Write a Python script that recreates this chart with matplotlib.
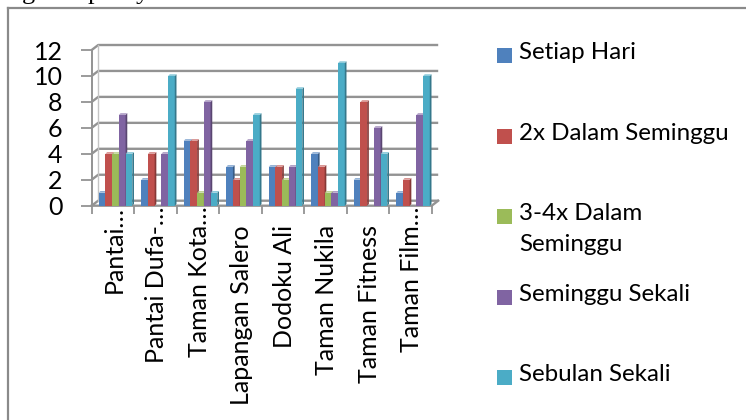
import matplotlib
matplotlib.use("Agg")
import matplotlib.pyplot as plt
import matplotlib.transforms as mtransforms
from matplotlib.patches import Polygon, Rectangle
from matplotlib.lines import Line2D
import numpy as np

# ---- data ----
categories = ["Pantai…", "Pantai Dufa-…", "Taman Kota…", "Lapangan Salero",
              "Dodoku Ali", "Taman Nukila", "Taman Fitness", "Taman Film…"]
series_names = ["Setiap Hari", "2x Dalam Seminggu", "3-4x Dalam\nSeminggu",
                "Seminggu Sekali", "Sebulan Sekali"]
setiap_hari = [1, 2, 5, 3, 3, 4, 2, 1]
dua_kali = [4, 4, 5, 2, 3, 3, 8, 2]
tiga_empat_kali = [4, 0, 1, 3, 2, 1, 0, 0]
seminggu_sekali = [7, 4, 8, 5, 3, 1, 6, 7]
sebulan_sekali = [4, 10, 1, 7, 9, 11, 4, 10]
series_values = [setiap_hari, dua_kali, tiga_empat_kali, seminggu_sekali, sebulan_sekali]
colors = ["#4F81BD", "#C0504D", "#9BBB59", "#8064A2", "#4BACC6"]
y_ticks = [0, 2, 4, 6, 8, 10, 12]

# ---- figure geometry (pixels) ----
W, H = 746, 420
FONT = "Lato"
FS = 18.0
LEG_FS = 17.4
GRID = "#939393"


def fx(px):
    return px / W


def fy(py):
    return 1 - py / H


fig = plt.figure(figsize=(W / 100, H / 100), dpi=100)
fig.patch.set_facecolor("white")

# outer chart frame (left and top edges)
fig.add_artist(Line2D([fx(8.3), fx(8.3)], [fy(8.3), 0], transform=fig.transFigure,
                      color="#8a8a8a", lw=1.6))
fig.add_artist(Line2D([fx(8.3), 1], [fy(8.3), fy(8.3)], transform=fig.transFigure,
                      color="#8a8a8a", lw=1.6))

# descenders of the paragraph line above the chart
for ch, px in [("g", 22), ("p", 88), ("y", 136)]:
    fig.text(fx(px), fy(-0.5), ch, family="Liberation Serif", fontsize=19,
             va="baseline", ha="left", color="black")

x_left, x_right = 91.7, 431.7
y_bot, y_top = 205.7, 50.0
ax = fig.add_axes([fx(x_left), fy(y_bot), (x_right - x_left) / W, (y_bot - y_top) / H])
ax.set_xlim(-0.5, 7.5)
ax.set_ylim(0, 12)
ax.set_facecolor("none")
for s in ax.spines.values():
    s.set_visible(False)

# depth offset of the back wall, in data units
DX = 6.5 / ((x_right - x_left) / 8)
DY = 5.0 / ((y_bot - y_top) / 12)

# walls and gridlines
for yv in y_ticks:
    ax.plot([-0.5, -0.5 + DX, 7.5 + DX], [yv, yv + DY, yv + DY], color=GRID,
            lw=1.7, clip_on=False, zorder=1, solid_capstyle="butt")
ax.plot([-0.5, -0.5], [0, 12], color=GRID, lw=1.4, clip_on=False, zorder=1)
ax.plot([-0.5 + DX, -0.5 + DX], [DY, 12 + DY], color="#c4c4c4", lw=1.0, clip_on=False, zorder=1)
# floor front edge
ax.plot([-0.5, 7.5, 7.5 + DX], [0, 0, DY], color=GRID, lw=1.7, clip_on=False, zorder=1)

# ticks
ax.set_yticks(y_ticks)
ax.set_yticklabels([str(v) for v in y_ticks], fontsize=FS, family=FONT)
ax.tick_params(axis="y", length=8, width=1.3, color=GRID, pad=13)
ax.set_xticks(np.arange(-0.5, 8, 1.0))
ax.set_xticklabels([])
ax.tick_params(axis="x", length=6, width=1.3, color=GRID)

# 3-D style columns
BW = 0.158
GOFF = 0.06
ddx, ddy = 0.04, 0.13


def shade(c, f):
    rgb = np.array(matplotlib.colors.to_rgb(c))
    if f < 1:
        return tuple(rgb * f)
    return tuple(rgb + (1 - rgb) * (f - 1))


z = 3
for i, (vals, col) in enumerate(zip(series_values, colors)):
    xs = np.arange(len(categories)) + (i - 2) * BW + GOFF
    ax.bar(xs, vals, width=BW, color=col, edgecolor="none", zorder=z, clip_on=False)
    for xc, v in zip(xs, vals):
        if v <= 0:
            continue
        x0, x1 = xc - BW / 2, xc + BW / 2
        side = Polygon([(x1, 0), (x1 + ddx, ddy), (x1 + ddx, v + ddy), (x1, v)],
                       closed=True, facecolor=shade(col, 0.7), edgecolor="none",
                       zorder=z, clip_on=False)
        cap = Polygon([(x0, v), (x1, v), (x1 + ddx, v + ddy), (x0 + ddx, v + ddy)],
                      closed=True, facecolor=shade(col, 1.35), edgecolor="none",
                      zorder=z, clip_on=False)
        ax.add_patch(side)
        ax.add_patch(cap)
    z += 1

# rotated category labels; the ellipsis of shortened names sticks out above
renderer = fig.canvas.get_renderer()
probe = fig.text(0, 0, "…", fontsize=FS, family=FONT)
ell_w = probe.get_window_extent(renderer).width
probe.remove()
for j, name in enumerate(categories):
    shift = ell_w if name.endswith("…") else 0.0
    tr = mtransforms.offset_copy(ax.transData, fig=fig, x=1.5,
                                 y=-(225 - y_bot) + shift, units="dots")
    ax.text(j, 0, name, transform=tr, rotation=90, rotation_mode="anchor",
            ha="right", va="center", fontsize=FS, family=FONT, clip_on=False)

# legend
rows = [55, 136, 216, 297, 377]
for name, col, cy in zip(series_names, colors, rows):
    fig.add_artist(Rectangle((fx(497), fy(cy + 7.5)), 15 / W, 15 / H,
                             transform=fig.transFigure, facecolor=col, edgecolor="none"))
    fig.text(fx(519), fy(cy - 13), name, fontsize=LEG_FS, family=FONT,
             va="top", ha="left", linespacing=1.6)

fig.savefig("out.png", dpi=100)
